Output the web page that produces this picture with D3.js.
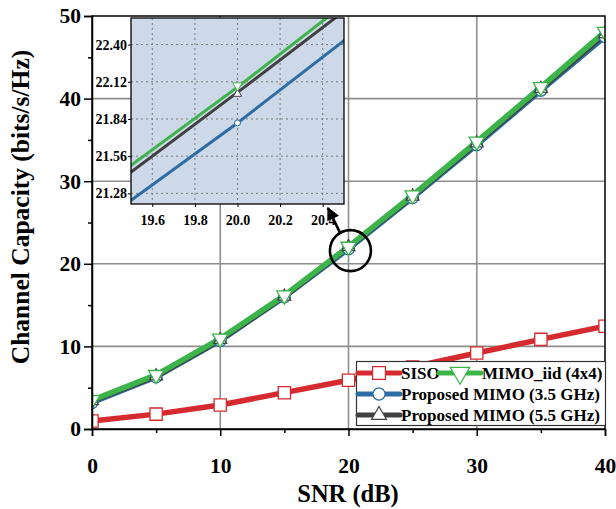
<!DOCTYPE html>
<html>
<head>
<meta charset="utf-8">
<script src="https://cdn.jsdelivr.net/npm/d3@7/dist/d3.min.js"></script>
<style>
  html, body { margin: 0; padding: 0; background: #fff; }
  svg { display: block; }
  text { font-family: "Liberation Serif", "Times New Roman", serif; font-weight: bold; fill: #000; }
</style>
</head>
<body>
<svg id="chart" width="616" height="509"></svg>
<script>
// SNR sweep (dB)
const snr = [0, 5, 10, 15, 20, 25, 30, 35, 40];
// Channel capacity (bits/s/Hz) per series
const siso     = [0.97, 1.8, 2.9, 4.4, 5.9, 7.5, 9.2, 10.85, 12.45];
const mimoIid  = [3.5, 6.55, 10.95, 16.18, 22.08, 28.3, 34.8, 41.4, 48.1];
const mimo35   = [3.2, 6.3, 10.7, 15.99, 21.81, 28.0, 34.4, 41.0, 47.5];
const mimo55   = [3.4, 6.4, 10.8, 16.04, 22.04, 28.15, 34.6, 41.2, 47.8];

// Axis ticks
const xTicks = [0, 10, 20, 30, 40];
const yTicks = [0, 10, 20, 30, 40, 50];
const xMinor = [5, 15, 25, 35];
const yMinor = [5, 15, 25, 35, 45];
const insetXTicks = [19.6, 19.8, 20.0, 20.2, 20.4];
const insetYTicks = [21.28, 21.56, 21.84, 22.12, 22.40];

const seriesNames = ["SISO", "MIMO_iid (4x4)", "Proposed MIMO (3.5 GHz)", "Proposed MIMO (5.5 GHz)"];

const svg = d3.select("#chart");
const L = 92, R = 605, T = 16, B = 429;

const x = d3.scaleLinear().domain([0, 40]).range([L, R]);
const y = d3.scaleLinear().domain([0, 50]).range([B, T]);

const series = [
  { name: seriesNames[0], values: siso,    color: "#d52a2f", symbol: "square" },
  { name: seriesNames[2], values: mimo35,  color: "#2e6da4", symbol: "circle" },
  { name: seriesNames[3], values: mimo55,  color: "#404040", symbol: "up" },
  { name: seriesNames[1], values: mimoIid, color: "#3cb44a", symbol: "down" }
];

function markerPath(sym, size) {
  if (sym === "square") return d3.symbol(d3.symbolSquare, size)();
  if (sym === "circle") return d3.symbol(d3.symbolCircle, size)();
  return d3.symbol(d3.symbolTriangle, size)();
}
function markerRot(sym) { return sym === "down" ? " rotate(180)" : ""; }

const defs = svg.append("defs");
defs.append("clipPath").attr("id", "plotClip")
  .append("rect").attr("x", L).attr("y", T).attr("width", R - L).attr("height", B - T);

// Grid
const grid = svg.append("g");
grid.selectAll("line.gx").data(xTicks.slice(1, -1)).join("line")
  .attr("x1", d => x(d)).attr("x2", d => x(d)).attr("y1", T).attr("y2", B)
  .attr("stroke", "#8e8e8e").attr("stroke-width", 1.6);
grid.selectAll("line.gy").data(yTicks.slice(1, -1)).join("line")
  .attr("x1", L).attr("x2", R).attr("y1", d => y(d)).attr("y2", d => y(d))
  .attr("stroke", "#8e8e8e").attr("stroke-width", 1.6);

// Series
const plot = svg.append("g").attr("clip-path", "url(#plotClip)");
const line = d3.line().x((d, i) => x(snr[i])).y(d => y(d));
const markerSize = { square: 150, circle: 110, up: 70, down: 100 };
series.forEach(s => {
  plot.append("path").attr("d", line(s.values))
    .attr("fill", "none").attr("stroke", s.color).attr("stroke-width", 5.5)
    .attr("stroke-linejoin", "round");
});
series.forEach(s => {
  plot.selectAll(null).data(s.values).join("path")
    .attr("d", markerPath(s.symbol, markerSize[s.symbol]))
    .attr("transform", (d, i) => `translate(${x(snr[i])},${y(d)})${markerRot(s.symbol)}`)
    .attr("fill", "#fff").attr("stroke", s.color).attr("stroke-width", 1.3);
});

// Frame
svg.append("rect").attr("x", L).attr("y", T).attr("width", R - L).attr("height", B - T)
  .attr("fill", "none").attr("stroke", "#000").attr("stroke-width", 1.5);

// Axes
const xAxis = svg.append("g").attr("transform", `translate(0,${B})`)
  .call(d3.axisBottom(x).tickValues(xTicks).tickSize(7).tickFormat(d3.format("d")));
svg.append("g").attr("transform", `translate(0,${B})`)
  .call(d3.axisBottom(x).tickValues(xMinor).tickSize(4).tickFormat(""))
  .call(g => g.select(".domain").remove());
const yAxis = svg.append("g").attr("transform", `translate(${L},0)`)
  .call(d3.axisLeft(y).tickValues(yTicks).tickSize(8).tickFormat(d3.format("d")));
svg.append("g").attr("transform", `translate(${L},0)`)
  .call(d3.axisLeft(y).tickValues(yMinor).tickSize(4).tickFormat(""))
  .call(g => g.select(".domain").remove());
svg.selectAll(".tick line").attr("stroke", "#000").attr("stroke-width", 1.5);
svg.selectAll(".domain").attr("stroke", "#000").attr("stroke-width", 1.5);
xAxis.selectAll("text").attr("font-size", 21.5).attr("dy", "1.6em")
  .style("font-family", "Liberation Serif").style("font-weight", "bold");
yAxis.selectAll("text").attr("font-size", 21.5).attr("x", -11)
  .style("font-family", "Liberation Serif").style("font-weight", "bold");

// Axis titles
svg.append("text").attr("x", 348).attr("y", 502).attr("text-anchor", "middle")
  .attr("font-size", 24.5).text("SNR (dB)");
svg.append("text").attr("transform", `translate(29,207) rotate(-90)`)
  .attr("text-anchor", "middle").attr("font-size", 25.5).text("Channel Capacity (bits/s/Hz)");

// Zoom annotation: circle around SNR 20 and an arrow to the inset
const cx = x(20.15), cy = y(21.6), cr = 20.5;
svg.append("circle").attr("cx", cx).attr("cy", cy).attr("r", cr)
  .attr("fill", "none").attr("stroke", "#000").attr("stroke-width", 2.6);
defs.append("marker").attr("id", "arrowHead").attr("viewBox", "0 0 10 10")
  .attr("refX", 9).attr("refY", 5).attr("markerWidth", 5.5).attr("markerHeight", 5)
  .attr("orient", "auto").attr("markerUnits", "strokeWidth")
  .append("path").attr("d", "M0,0 L10,5 L0,10 Z").attr("fill", "#000");
const ang = -2.1;
svg.append("line")
  .attr("x1", cx + cr * Math.cos(ang)).attr("y1", cy + cr * Math.sin(ang))
  .attr("x2", 328).attr("y2", 208)
  .attr("stroke", "#000").attr("stroke-width", 2.6).attr("marker-end", "url(#arrowHead)");

// Inset: magnified view around SNR = 20 dB
const iL = 131, iR = 344, iT = 18, iB = 204;
const ix = d3.scaleLinear().domain([19.5, 20.5]).range([iL, iR]);
const iy = d3.scaleLinear().domain([21.2, 22.6]).range([iB, iT]);
defs.append("clipPath").attr("id", "insetClip")
  .append("rect").attr("x", iL).attr("y", iT).attr("width", iR - iL).attr("height", iB - iT);
const inset = svg.append("g");
inset.append("rect").attr("x", iL).attr("y", iT).attr("width", iR - iL).attr("height", iB - iT)
  .attr("fill", "#cdd8e8");
inset.selectAll("line.igx").data(insetXTicks).join("line")
  .attr("x1", d => ix(d)).attr("x2", d => ix(d)).attr("y1", iT).attr("y2", iB)
  .attr("stroke", "#7a7a7a").attr("stroke-width", 1).attr("stroke-dasharray", "2,3");
inset.selectAll("line.igy").data(insetYTicks).join("line")
  .attr("x1", iL).attr("x2", iR).attr("y1", d => iy(d)).attr("y2", d => iy(d))
  .attr("stroke", "#7a7a7a").attr("stroke-width", 1).attr("stroke-dasharray", "2,3");
const iplot = inset.append("g").attr("clip-path", "url(#insetClip)");
const iline = d3.line().x((d, i) => ix(snr[i])).y(d => iy(d));
const insetSeries = series.slice(1);
insetSeries.forEach(s => {
  iplot.append("path").attr("d", iline(s.values))
    .attr("fill", "none").attr("stroke", s.color).attr("stroke-width", 3);
});
const iMarkerSize = { circle: 28, up: 30, down: 40 };
insetSeries.forEach(s => {
  const i = snr.indexOf(20);
  const off = s.symbol === "down" ? -1.5 : (s.symbol === "up" ? 1.5 : 0);
  iplot.append("path").attr("d", markerPath(s.symbol, iMarkerSize[s.symbol]))
    .attr("transform", `translate(${ix(snr[i])},${iy(s.values[i]) + off})${markerRot(s.symbol)}`)
    .attr("fill", "#fff").attr("stroke", s.color).attr("stroke-width", 1);
});
inset.append("rect").attr("x", iL).attr("y", iT).attr("width", iR - iL).attr("height", iB - iT)
  .attr("fill", "none").attr("stroke", "#000").attr("stroke-width", 1.3);
const ixAxis = inset.append("g").attr("transform", `translate(0,${iB})`)
  .call(d3.axisBottom(ix).tickValues(insetXTicks).tickSize(3).tickFormat(d3.format(".1f")));
const iyAxis = inset.append("g").attr("transform", `translate(${iL},0)`)
  .call(d3.axisLeft(iy).tickValues(insetYTicks).tickSize(3).tickFormat(d3.format(".2f")));
inset.selectAll(".domain").remove();
inset.selectAll(".tick line").attr("stroke", "#000").attr("stroke-width", 1);
ixAxis.selectAll("text").attr("font-size", 14).attr("dy", "1.1em")
  .style("font-family", "Liberation Serif").style("font-weight", "bold");
iyAxis.selectAll("text").attr("font-size", 14).attr("x", -4)
  .style("font-family", "Liberation Serif").style("font-weight", "bold");

// Legend
const lg = svg.append("g");
lg.append("rect").attr("x", 356.5).attr("y", 361.5).attr("width", 249).attr("height", 64)
  .attr("fill", "#fff").attr("stroke", "#333").attr("stroke-width", 1.2);
const legendItems = [
  { s: series[0], x0: 358, row: 0 },
  { s: series[3], x0: 439, row: 0 },
  { s: series[1], x0: 358, row: 1 },
  { s: series[2], x0: 358, row: 2 }
];
const rowY = [373, 394, 415];
const lgMarker = { square: 165, circle: 115, up: 95, down: 165 };
legendItems.forEach(it => {
  const yy = rowY[it.row];
  lg.append("line").attr("x1", it.x0).attr("x2", it.x0 + 42).attr("y1", yy).attr("y2", yy)
    .attr("stroke", it.s.color).attr("stroke-width", 5).attr("stroke-linecap", "round");
  lg.append("path").attr("d", markerPath(it.s.symbol, lgMarker[it.s.symbol]))
    .attr("transform", `translate(${it.x0 + 21},${yy})${markerRot(it.s.symbol)}`)
    .attr("fill", "#fff").attr("stroke", it.s.color).attr("stroke-width", 1.2);
  lg.append("text").attr("x", it.x0 + 43).attr("y", yy).attr("dy", "0.35em")
    .attr("font-size", 17).text(it.s.name);
});
</script>
</body>
</html>
